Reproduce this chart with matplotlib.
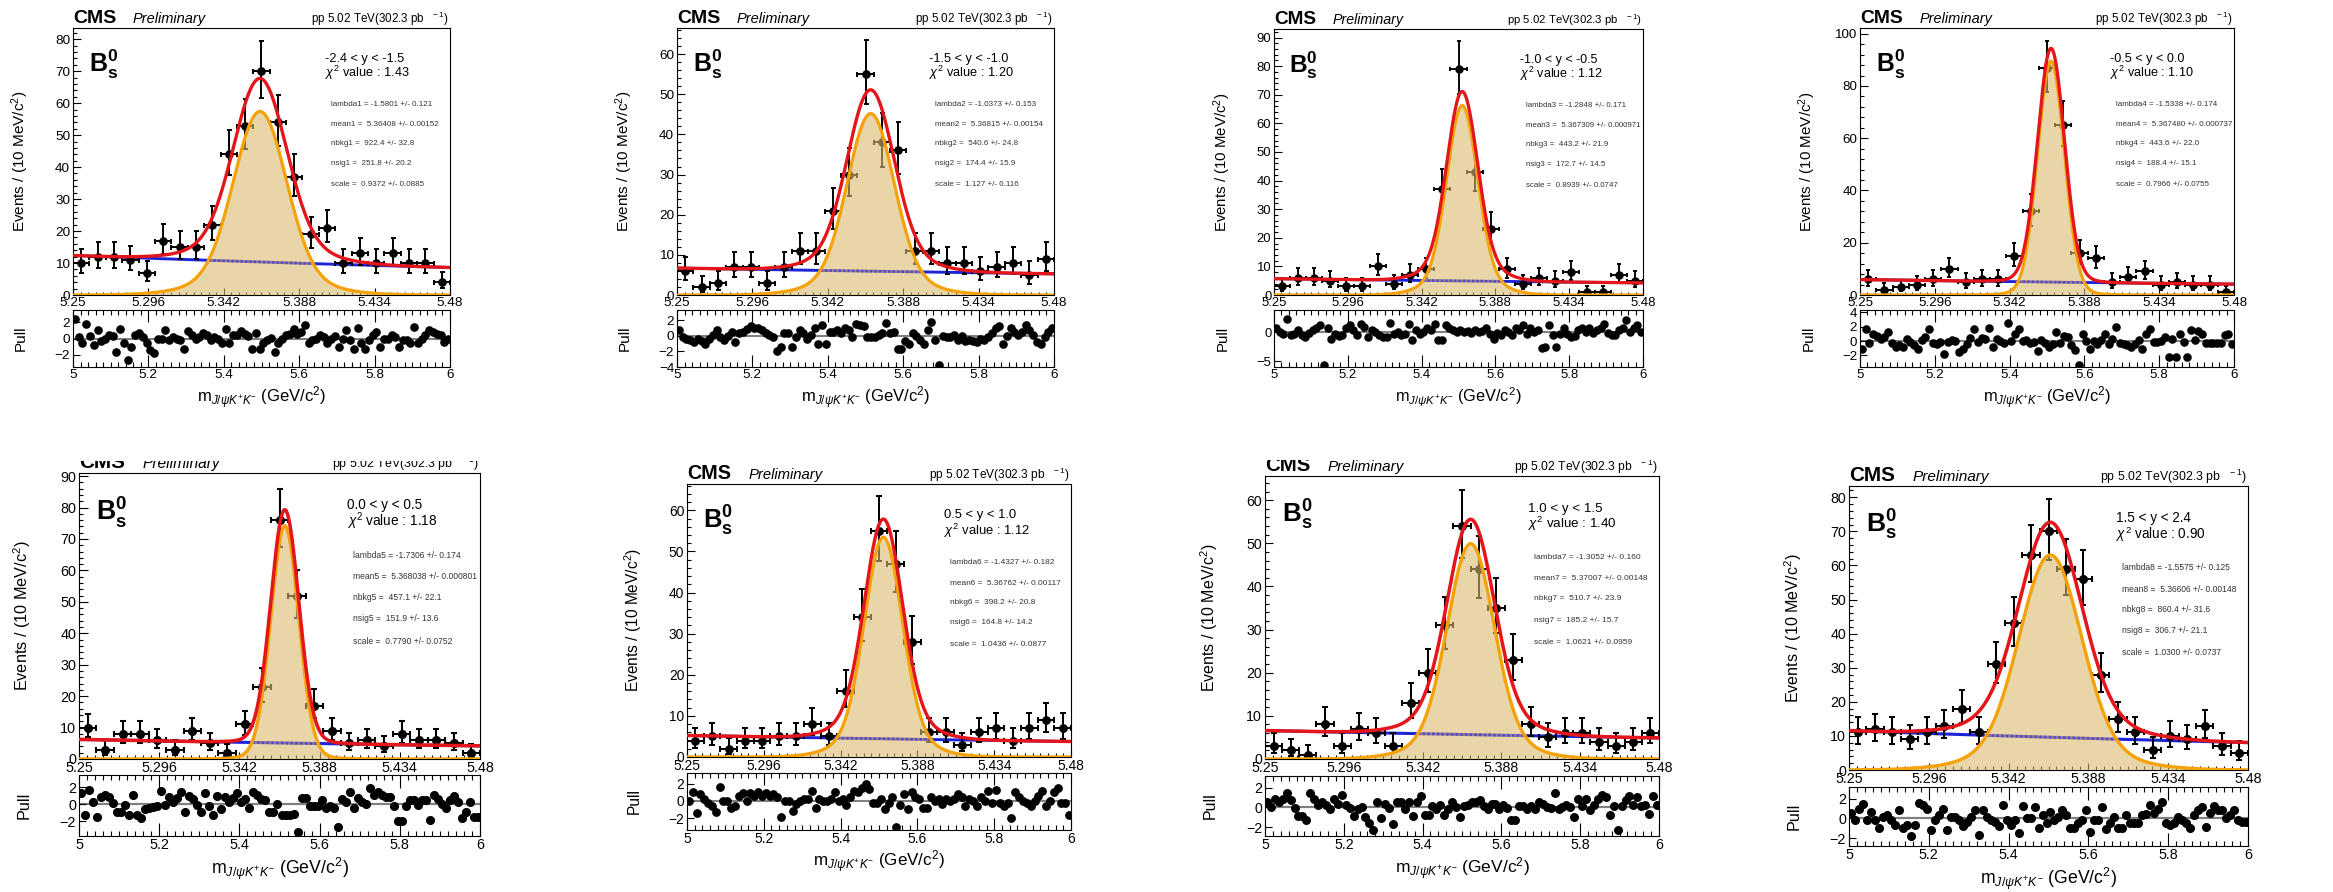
import math
import numpy as np
import matplotlib
matplotlib.use("Agg")
import matplotlib.pyplot as plt
from matplotlib.ticker import MultipleLocator, AutoMinorLocator, FuncFormatter
from matplotlib.transforms import Bbox

plt.rcParams["font.family"] = ["Liberation Sans", "DejaVu Sans"]
plt.rcParams["mathtext.fontset"] = "custom"
plt.rcParams["mathtext.rm"] = "Liberation Sans"
plt.rcParams["mathtext.it"] = "Liberation Sans:italic"
plt.rcParams["mathtext.bf"] = "Liberation Sans:bold"
plt.rcParams["mathtext.sf"] = "Liberation Sans"

W, H = 2333, 892

# ---------------------------------------------------------------- fit inputs
RAPIDITY = ["-2.4 < y < -1.5", "-1.5 < y < -1.0", "-1.0 < y < -0.5", "-0.5 < y < 0.0",
            "0.0 < y < 0.5", "0.5 < y < 1.0", "1.0 < y < 1.5", "1.5 < y < 2.4"]
CHI2 = ["1.43", "1.20", "1.12", "1.10", "1.18", "1.12", "1.40", "0.90"]

LAMBDA_FIT = ["-1.5801 +/- 0.121", "-1.0373 +/- 0.153", "-1.2848 +/- 0.171", "-1.5338 +/- 0.174",
              "-1.7306 +/- 0.174", "-1.4327 +/- 0.182", "-1.3052 +/- 0.160", "-1.5575 +/- 0.125"]
MEAN_FIT = ["5.36408 +/- 0.00152", "5.36815 +/- 0.00154", "5.367309 +/- 0.000971", "5.367480 +/- 0.000737",
            "5.368038 +/- 0.000801", "5.36762 +/- 0.00117", "5.37007 +/- 0.00148", "5.36606 +/- 0.00148"]
NBKG_FIT = ["922.4 +/- 32.8", "540.6 +/- 24.8", "443.2 +/- 21.9", "443.6 +/- 22.0",
            "457.1 +/- 22.1", "398.2 +/- 20.8", "510.7 +/- 23.9", "860.4 +/- 31.6"]
NSIG_FIT = ["251.8 +/- 20.2", "174.4 +/- 15.9", "172.7 +/- 14.5", "188.4 +/- 15.1",
            "151.9 +/- 13.6", "164.8 +/- 14.2", "185.2 +/- 15.7", "306.7 +/- 21.1"]
SCALE_FIT = ["0.9372 +/- 0.0885", "1.127 +/- 0.116", "0.8939 +/- 0.0747", "0.7966 +/- 0.0755",
             "0.7790 +/- 0.0752", "1.0436 +/- 0.0877", "1.0621 +/- 0.0959", "1.0300 +/- 0.0737"]

# double-Gaussian signal template: core width (GeV) and core fraction
SIG_CORE_WIDTH = [0.01575, 0.01386, 0.00936, 0.00819, 0.00796, 0.01107, 0.01332, 0.01746]
SIG_CORE_FRAC = [0.80, 0.80, 0.80, 0.95, 0.95, 0.80, 0.80, 0.80]

# events per 10 MeV bin, 5.25 - 5.48 GeV
COUNTS = [
    [10, 12, 12, 11, 7, 17, 15, 15, 22, 44, 53, 70, 54, 37, 19, 21, 10, 13, 10, 13, 10, 10, 4],
    [6, 2, 3, 7, 7, 3, 7, 11, 11, 21, 30, 55, 38, 36, 11, 11, 8, 8, 6, 7, 8, 5, 9],
    [3, 6, 6, 5, 3, 3, 10, 4, 7, 9, 37, 79, 43, 23, 9, 4, 6, 5, 8, 1, 1, 7, 5],
    [6, 2, 3, 4, 6, 10, 5, 6, 6, 15, 32, 87, 65, 16, 14, 5, 7, 9, 4, 5, 4, 4, 1],
    [10, 3, 8, 8, 6, 3, 9, 5, 2, 11, 23, 76, 52, 17, 9, 5, 6, 4, 8, 6, 6, 5, 2],
    [4, 5, 2, 4, 4, 5, 5, 8, 5, 16, 34, 55, 47, 28, 6, 6, 3, 6, 7, 4, 7, 9, 7],
    [3, 2, 1, 8, 3, 7, 6, 3, 13, 20, 31, 54, 44, 35, 23, 8, 5, 6, 6, 4, 3, 4, 6],
    [11, 12, 11, 9, 11, 13, 18, 11, 31, 43, 63, 70, 59, 56, 28, 15, 11, 6, 10, 9, 13, 7, 5],
]

# pulls per 10 MeV bin over the full fit range 5.0 - 6.0 GeV
PULL_1 = [2.4, 0.2, -0.6, 1.75, 0.3, -0.8, 1.0, -0.3, 0.0, 0.4,
          0.3, -1.6, 1.2, -0.5, -2.65, -1.0, 0.4, 0.7, 0.2, -0.6,
          -1.4, -1.75, 0.0, 0.0, 1.0, -0.2, 0.2, 0.0, -0.2, -1.35,
          0.95, 0.4, -0.1, 0.2, 0.7, 0.4, -0.2, 0.2, -0.1, -0.5,
          1.2, -0.5, 0.4, 0.4, 0.95, 0.6, 0.3, -1.35, 0.7, -1.35,
          -0.6, -0.2, 0.1, -1.6, -0.5, 0.0, 0.4, 0.6, 1.2, 0.6,
          0.8, 1.6, -0.5, -0.2, 0.0, 0.4, 0.2, -0.5, 0.0, 0.3,
          -1.0, -0.1, 1.0, -0.2, -1.35, 1.35, -0.6, -1.35, -0.2, 0.4,
          0.8, -1.0, 0.0, 0.0, 0.4, 0.2, -1.0, -0.2, -0.2, -0.6,
          1.4, -0.6, 0.0, 0.4, 1.0, 0.8, 0.6, 0.4, -0.4, 0.0]
PULL_2 = [0.75, -0.2, -0.35, -0.6, -0.8, -0.35, -0.65, -1.0, -0.35, 0.1,
          0.75, -0.2, -0.5, 0.0, 0.5, -0.8, 0.3, 0.5, 0.85, 1.3,
          1.0, 1.0, 0.75, 0.3, 0.1, -0.2, -1.9, -1.5, 0.3, 0.3,
          -1.4, -0.2, 0.75, 0.3, -0.35, 0.1, 1.0, -1.0, 1.4, -1.0,
          0.5, 0.5, 0.75, 0.4, 1.0, 0.75, -0.2, 1.55, 1.4, 1.2,
          -0.1, -0.1, -0.1, 0.1, 0.4, 1.65, 0.3, 0.5, -1.7, -1.7,
          -0.65, -1.0, 0.3, 0.0, -0.5, -1.0, 0.75, 1.75, -0.5, -3.8,
          0.0, -0.1, -0.1, 0.1, -0.6, 0.0, -0.65, -0.6, -0.65, -0.8,
          -0.35, -0.6, -0.2, 0.3, 1.0, 1.2, -1.0, 0.0, 1.0, 0.5,
          0.1, 0.5, 1.4, 0.75, 0.1, -0.8, -1.0, -0.1, 0.5, 1.0]
PULL_3 = [0.7, 0.1, -0.2, 2.3, -0.5, -0.2, 0.4, -0.5, -0.75, -0.05,
          0.4, 0.7, 1.3, -5.6, 0.7, -1.05, -0.2, -0.65, -0.5, 0.7,
          1.3, 0.4, -0.5, 1.55, 1.0, -0.75, 0.4, 0.1, -0.5, -0.75,
          -0.75, 1.7, -0.2, 0.1, -0.5, -0.2, 1.55, -1.35, 0.4, -0.2,
          0.1, 0.7, 0.4, 1.55, -1.35, -1.35, 1.3, 0.7, 0.4, 0.1,
          0.4, 0.1, 0.3, -0.05, 0.4, 0.1, 0.3, 0.7, -0.2, -1.05,
          -0.05, -0.5, 0.4, 0.1, -0.5, 0.7, 0.4, 1.3, -0.2, 0.7,
          0.1, 0.4, -2.7, -2.5, 1.3, -0.5, -2.5, -0.2, 0.7, -0.2,
          -0.75, -0.65, 0.4, 0.7, 0.1, 0.7, -0.05, 0.4, 0.7, 1.55,
          -0.05, -0.5, -0.5, 0.4, 0.7, 2.15, 0.1, 0.7, 1.3, 0.1]
PULL_4 = [-1.05, 1.7, -0.3, 1.0, 0.65, 0.3, 0.55, 1.25, -0.3, -0.85,
          -0.6, -0.85, 0.3, -0.15, -0.6, -1.05, 0.1, 0.55, 1.7, -0.3,
          -0.4, -0.15, -1.75, -0.15, 0.2, 0.0, -1.55, -1.05, -0.4, 0.45,
          1.7, -0.15, 0.45, 0.3, 1.85, -0.85, 0.3, 0.0, -0.3, 2.5,
          0.0, 1.0, 1.6, 0.0, 0.2, -0.3, -0.15, -1.4, 0.1, -0.3,
          -0.85, -0.4, 1.25, -0.3, 0.65, 0.55, -0.6, -1.2, -3.3, 0.95,
          0.0, -1.05, 0.0, -0.4, 0.1, 1.0, -0.4, 0.3, 1.95, -0.3,
          -0.4, -0.6, -0.85, -0.4, 0.1, -1.05, 1.0, 1.7, -0.15, -0.15,
          0.0, 0.55, -2.25, 0.3, -2.25, 1.0, -0.15, -2.15, 1.5, 0.1,
          1.4, 1.0, -0.3, -0.3, -0.3, -0.3, -0.3, 0.8, 1.0, -0.4]
PULL_5 = [1.3, -1.25, 1.6, 0.3, -1.5, 0.8, 1.1, 0.8, 0.15, -0.85,
          -0.95, -0.1, -1.25, 1.1, -1.25, -1.6, -0.55, -0.45, -0.35, -0.15,
          1.5, -0.1, 0.8, 0.25, 0.7, 1.4, -0.95, 0.95, 0.6, -0.1,
          -0.95, 1.3, -0.15, -1.3, 1.0, -0.55, 0.8, 0.25, 0.7, 1.3,
          0.3, 0.6, -0.45, 1.4, 1.1, 0.55, 0.45, -0.85, -0.85, 0.05,
          -1.25, -1.25, -1.25, -1.1, -3.25, 0.7, 0.7, -0.15, -0.15, -0.15,
          0.45, -0.45, -0.15, -0.45, -2.7, 0.6, 0.25, 1.4, -0.45, 0.7,
          0.3, 0.05, 1.85, 1.1, 1.4, 1.1, 0.8, 0.8, -0.15, -2.0,
          -2.0, -0.15, 0.45, 0.45, -0.1, 0.45, 0.45, -1.8, 1.1, 0.6,
          0.05, -0.45, 0.45, 1.0, 0.25, -1.6, -0.85, 0.3, -1.5, -1.5]
PULL_6 = [0.0, 1.0, -1.4, 0.8, 0.2, -0.2, -0.6, -1.3, 1.65, 0.0,
          0.0, -0.8, -0.6, 0.6, 0.9, 0.0, 0.9, 0.6, 1.0, 0.6,
          0.9, 0.6, 0.8, 0.4, -1.9, 0.0, 0.0, -1.2, -0.4, 0.0,
          0.2, 0.2, 1.2, -0.8, 0.2, 0.0, 0.0, 0.2, 1.0, 0.0,
          0.2, -0.5, 0.4, 1.2, 1.0, 1.55, 1.95, 1.4, -0.2, -0.2,
          0.2, -1.0, -0.2, 0.4, -3.05, -0.5, 0.8, -1.0, 1.0, 0.4,
          0.2, -0.8, -0.8, 0.4, 0.0, 0.2, -0.4, 0.2, 0.0, 0.2,
          0.8, 0.4, -0.6, 0.2, 0.0, -0.6, 0.4, 0.0, 1.2, -0.2,
          1.3, -0.2, -0.6, -0.2, -1.95, 1.0, 0.4, 0.0, -0.3, -0.6,
          0.0, 0.6, 1.2, -0.6, 0.0, 1.0, 1.55, -0.3, -0.3, -1.6]
PULL_7 = [0.6, 0.05, 0.9, 0.6, 0.9, 1.5, 0.75, -0.1, -0.9, -0.9,
          -1.25, 1.5, 0.9, 0.25, 0.6, 0.25, -0.2, 0.9, 0.4, 1.25,
          0.25, -0.1, -0.9, -0.2, 0.05, -0.95, -1.55, -2.25, 0.6, -1.1,
          0.4, -0.1, -1.65, 0.6, 0.6, -0.2, 0.6, -0.9, 0.6, 1.15,
          -0.8, -0.8, 0.15, -0.2, 0.25, -0.8, -0.2, 0.6, 0.05, -1.0,
          0.15, 0.25, 0.6, 0.6, 0.75, 0.15, -0.2, 0.4, 0.4, -0.2,
          0.25, -0.1, -1.3, -1.3, 0.15, 0.15, -0.2, 0.15, -0.2, 0.6,
          0.35, 0.05, -0.1, 1.5, -0.2, 0.05, 0.25, 0.05, -1.0, 0.9,
          0.15, 0.9, -0.3, 0.25, 0.9, 1.25, 1.1, -0.8, 0.15, -2.25,
          0.15, 0.75, 1.15, 0.25, 1.1, 0.15, 0.25, -0.7, 1.15, 0.25]
PULL_8 = [0.55, -0.15, 1.0, 1.5, -0.15, 0.65, -0.15, -1.0, 0.15, 0.35,
          -0.15, -0.65, 0.9, -1.0, -0.65, -1.75, -0.65, 1.55, 1.35, 1.0,
          -1.15, -0.15, 0.35, 1.0, -1.15, 0.15, 0.15, -0.15, -0.75, -0.35,
          0.15, 0.9, -1.65, 0.85, 0.15, -0.15, -0.35, -0.75, 1.35, -0.15,
          -0.65, -0.15, -1.45, 1.25, 0.0, 0.0, 1.15, -1.0, 0.35, -0.5,
          0.65, -0.15, 0.15, 0.9, 0.35, -1.0, -1.0, -0.5, -0.15, 0.85,
          -1.35, -0.15, -0.15, 1.15, -1.1, -0.5, 0.15, -1.0, -1.0, 0.35,
          -0.5, -0.5, -0.5, 0.35, 0.5, 1.35, 0.55, 1.0, 1.65, -0.5,
          -0.65, -0.5, 0.15, -0.15, -0.5, -1.0, 0.35, 0.85, 1.15, -0.9,
          0.55, 1.25, 0.85, 0.9, 0.0, 0.35, 0.9, -0.15, -0.35, -0.35]
PULLS = [PULL_1, PULL_2, PULL_3, PULL_4, PULL_5, PULL_6, PULL_7, PULL_8]

MAIN_YMAX = [83.5, 66.5, 93.0, 102.2, 91.0, 66.4, 65.6, 83.3]
MAIN_YSTEP = [10, 10, 10, 20, 10, 10, 10, 10]
PULL_YLIM = [(-3.5, 3.5), (-4.0, 3.3), (-6.0, 3.9), (-3.6, 4.3),
             (-3.7, 3.4), (-3.4, 3.25), (-2.9, 3.2), (-2.8, 3.2)]
PULL_YSTEP = [2, 2, 5, 2, 2, 2, 2, 2]

BIN_W = 0.01
FIT_LO, FIT_HI = 5.0, 6.0
VIEW_LO, VIEW_HI = 5.25, 5.48
MASS_TICKS = ["5.25", "5.296", "5.342", "5.388", "5.434", "5.48"]

# ---------------------------------------------------------------- layout (pixels)
# left, main top, right, main bottom, pull top, pull bottom
FRAMES = [
    (73, 28, 450, 295, 310, 367),
    (677, 28, 1054, 295, 310, 367),
    (1274, 29, 1643, 295, 310, 367),
    (1860, 28, 2234, 295, 310, 367),
    (79, 473, 480, 759, 775, 836),
    (687, 484, 1071, 757, 773, 830),
    (1265, 476, 1659, 759, 776, 836),
    (1849, 486, 2248, 770, 787, 846),
]
HEADER_CLIP = [None, None, None, None, 461, None, 459.5, None]

C_RED = "#e3161b"
C_ORANGE = "#f5a20a"
C_BLUE = "#1c24d6"
C_BLUE_UNDER = "#5a3cc8"
C_FILL = "#d9bb71"


def val(txt):
    return float(txt.split()[0])


def poisson_cdf(k, lam):
    term = math.exp(-lam)
    tot = term
    for i in range(1, k + 1):
        term *= lam / i
        tot += term
    return tot


def garwood(n, cl=0.682689):
    a = (1.0 - cl) / 2.0
    if n == 0:
        lo = 0.0
    else:
        x0, x1 = 0.0, float(n)
        for _ in range(80):
            mid = 0.5 * (x0 + x1)
            if 1.0 - poisson_cdf(n - 1, mid) < a:
                x0 = mid
            else:
                x1 = mid
        lo = 0.5 * (x0 + x1)
    x0, x1 = float(n), n + 10.0 * math.sqrt(n + 1) + 10.0
    for _ in range(80):
        mid = 0.5 * (x0 + x1)
        if poisson_cdf(n, mid) > a:
            x0 = mid
        else:
            x1 = mid
    hi = 0.5 * (x0 + x1)
    return lo, hi


def gauss(x, mu, sg):
    return np.exp(-0.5 * ((x - mu) / sg) ** 2) / (math.sqrt(2 * math.pi) * sg)


def fx(x):
    return x / W


def fy(y):
    return 1.0 - y / H


fig = plt.figure(figsize=(W / 100, H / 100), dpi=100)
PT = 0.72  # points per pixel at 100 dpi

for k in range(8):
    L, T, R, B, PTOP, PBOT = FRAMES[k]
    s = (R - L) / 377.0
    ax = fig.add_axes([fx(L), fy(B), (R - L) / W, (B - T) / H])
    axp = fig.add_axes([fx(L), fy(PBOT), (R - L) / W, (PBOT - PTOP) / H])

    lam = val(LAMBDA_FIT[k])
    mu = val(MEAN_FIT[k])
    nbkg = val(NBKG_FIT[k])
    nsig = val(NSIG_FIT[k])
    s1 = SIG_CORE_WIDTH[k]
    fr = SIG_CORE_FRAC[k]

    xx = np.linspace(VIEW_LO, VIEW_HI, 800)
    bkg = nbkg * BIN_W * lam * np.exp(lam * xx) / (math.exp(lam * FIT_HI) - math.exp(lam * FIT_LO))
    sig = nsig * BIN_W * (fr * gauss(xx, mu, s1) + (1 - fr) * gauss(xx, mu, 2 * s1))
    tot = bkg + sig

    counts = np.array(COUNTS[k], dtype=float)
    xc = VIEW_LO + BIN_W * (np.arange(len(counts)) + 0.5)
    lims = np.array([garwood(int(n)) for n in COUNTS[k]])
    yerr = np.vstack([counts - lims[:, 0], lims[:, 1] - counts])

    ax.plot(xx, bkg, color=C_BLUE, lw=2.1 * s, zorder=2, solid_capstyle="butt")
    ax.errorbar(xc, counts, xerr=BIN_W / 2, yerr=yerr, fmt="o", ms=5.2 * s, color="black",
                ecolor="black", elinewidth=1.4 * s, capsize=1.8 * s, capthick=1.4 * s, zorder=3)
    ax.fill_between(xx, 0, sig, facecolor=C_FILL, alpha=0.6, lw=0, zorder=4)
    # background seen through the signal fill pattern
    under = np.where(sig > bkg, bkg, np.nan)
    ax.plot(xx, under, color=C_BLUE_UNDER, lw=1.8 * s, ls=(0, (1.0, 0.8)), alpha=0.85, zorder=4.5)
    ax.plot(xx, sig, color=C_ORANGE, lw=2.3 * s, zorder=5)
    ax.plot(xx, tot, color=C_RED, lw=2.4 * s, zorder=6)

    ax.set_xlim(VIEW_LO, VIEW_HI)
    ax.set_ylim(0, MAIN_YMAX[k])
    ax.set_xticks([float(t) for t in MASS_TICKS])
    ax.set_xticklabels(MASS_TICKS)
    ax.xaxis.set_minor_locator(AutoMinorLocator(10))
    ax.yaxis.set_major_locator(MultipleLocator(MAIN_YSTEP[k]))
    ax.yaxis.set_minor_locator(AutoMinorLocator(5))
    ax.tick_params(which="both", direction="in", top=False, right=False,
                   labelsize=9.7 * s, width=0.8, colors="black")
    ax.tick_params(axis="x", which="major", length=7 * s * PT, pad=1.2 * s)
    ax.tick_params(axis="x", which="minor", length=3.5 * s * PT)
    ax.tick_params(axis="y", which="major", length=8 * s * PT, pad=2.0 * s)
    ax.tick_params(axis="y", which="minor", length=4 * s * PT)
    for sp in ax.spines.values():
        sp.set_linewidth(0.8)

    # pull panel
    pulls = np.array(PULLS[k], dtype=float)
    xp = FIT_LO + BIN_W * (np.arange(len(pulls)) + 0.5)
    axp.axhline(0, color="#808080", lw=1.5 * s, zorder=1)
    axp.plot(xp, pulls, "o", ms=5.2 * s, color="black", zorder=3)
    axp.set_xlim(FIT_LO, FIT_HI)
    axp.set_ylim(*PULL_YLIM[k])
    axp.xaxis.set_major_locator(MultipleLocator(0.2))
    axp.xaxis.set_minor_locator(MultipleLocator(0.02))
    axp.xaxis.set_major_formatter(FuncFormatter(lambda v, p: f"{v:g}"))
    axp.yaxis.set_major_locator(MultipleLocator(PULL_YSTEP[k]))
    axp.tick_params(which="both", direction="in", top=True, right=False,
                    labelsize=9.7 * s, width=0.8, colors="black")
    axp.tick_params(axis="x", which="major", length=12 * s * PT, pad=1.2 * s)
    axp.tick_params(axis="x", which="minor", length=5 * s * PT)
    axp.tick_params(axis="y", which="major", length=7 * s * PT, pad=2.0 * s)
    for sp in axp.spines.values():
        sp.set_linewidth(0.8)

    # header
    clip = None
    if HEADER_CLIP[k] is not None:
        clip = Bbox([[0, 0], [W, H - HEADER_CLIP[k]]])
    base = T - 5 * s
    heads = [
        fig.text(fx(L), fy(base), "CMS", fontsize=14 * s, fontweight="bold", va="baseline", ha="left"),
        fig.text(fx(L + 60 * s), fy(base), "Preliminary", fontsize=10.5 * s, style="italic",
                 va="baseline", ha="left"),
        fig.text(fx(R - 1.5 * s), fy(base), r"pp 5.02 TeV(302.3 pb $^{\ \ -1}$)", fontsize=8.4 * s,
                 va="baseline", ha="right"),
    ]
    if clip is not None:
        for t in heads:
            t.set_clip_box(clip)
            t.set_clip_on(True)

    # labels inside the frame
    ax.text(0.042, 0.835, r"$\mathbf{B}^{\mathbf{0}}_{\mathbf{s}}$", transform=ax.transAxes,
            fontsize=18 * s, va="baseline", ha="left")
    ax.text(0.668, 0.874, RAPIDITY[k], transform=ax.transAxes, fontsize=9.2 * s,
            va="baseline", ha="left")
    ax.text(0.668, 0.815, r"$\chi^{2}$ value : " + CHI2[k], transform=ax.transAxes,
            fontsize=9.2 * s, va="baseline", ha="left")
    par_lines = [f"lambda{k + 1} = {LAMBDA_FIT[k]}", f"mean{k + 1} =  {MEAN_FIT[k]}",
                 f"nbkg{k + 1} =  {NBKG_FIT[k]}", f"nsig{k + 1} =  {NSIG_FIT[k]}",
                 f"scale =  {SCALE_FIT[k]}"]
    for txt, yy in zip(par_lines, [0.712, 0.637, 0.566, 0.491, 0.412]):
        ax.text(0.684, yy, txt, transform=ax.transAxes, fontsize=5.8 * s, color="#333333",
                va="center", ha="left")

    # axis titles
    fig.text(fx(L - 53 * s), fy((T + B) / 2), r"Events / (10 MeV/c$^{2}$)", rotation=90,
             fontsize=11 * s, ha="center", va="center")
    fig.text(fx(L - 52 * s), fy((PTOP + PBOT) / 2), "Pull", rotation=90,
             fontsize=11 * s, ha="center", va="center")
    fig.text(fx((L + R) / 2), fy(PBOT + 31 * s), r"m$_{J/\psi K^{+}K^{-}}$ (GeV/c$^{2}$)",
             fontsize=12 * s, ha="center", va="center")

fig.savefig("out.png", dpi=100)
